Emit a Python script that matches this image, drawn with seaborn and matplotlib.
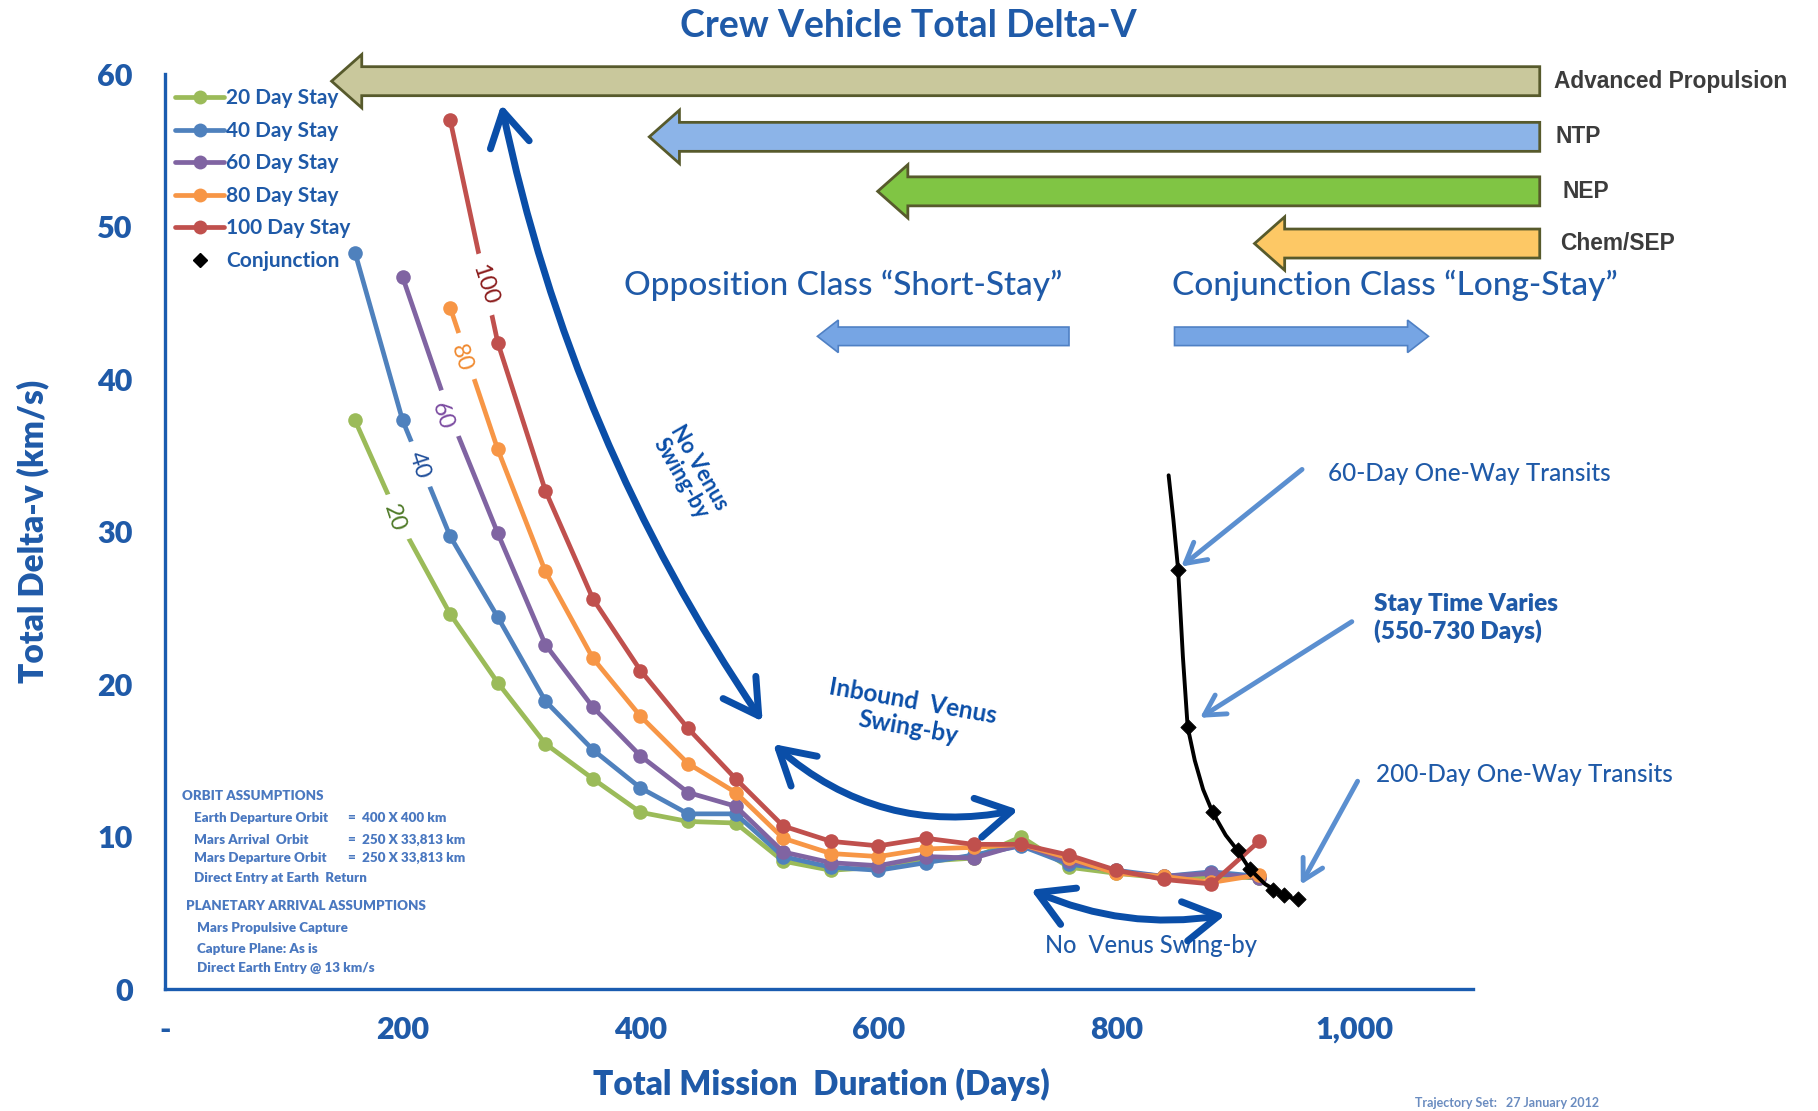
import numpy as np
import pandas as pd
import matplotlib.pyplot as plt
import seaborn as sns
from matplotlib.patches import Polygon, FancyArrowPatch
from matplotlib.lines import Line2D

sns.set_style("white")
plt.rcParams['font.family'] = ['Lato', 'DejaVu Sans']

# ------------------------------------------------------------
# data (total mission days vs total delta-v)
# ------------------------------------------------------------
days_20 = [160, 200, 240, 280, 320, 360, 400, 440, 480, 520, 560, 600, 640, 680, 720, 760, 800, 840, 880, 920]
stay_20 = [37.3, 30.3, 24.6, 20.1, 16.1, 13.8, 11.6, 11.0, 10.9, 8.4, 7.8, 8.0, 8.4, 8.6, 10.0, 8.0, 7.6, 7.3, 7.4, 7.3]

days_40 = [160, 200, 240, 280, 320, 360, 400, 440, 480, 520, 560, 600, 640, 680, 720, 760, 800, 840, 880, 920]
stay_40 = [48.3, 37.3, 29.7, 24.4, 18.9, 15.7, 13.2, 11.5, 11.5, 8.7, 8.0, 7.8, 8.3, 8.8, 9.4, 8.2, 7.8, 7.4, 7.7, 7.4]

days_60 = [200, 240, 280, 320, 360, 400, 440, 480, 520, 560, 600, 640, 680, 720, 760, 800, 840, 880, 920]
stay_60 = [46.7, 37.6, 29.9, 22.6, 18.5, 15.3, 12.9, 12.0, 9.0, 8.3, 8.1, 8.7, 8.6, 9.5, 8.4, 7.7, 7.4, 7.6, 7.3]

days_80 = [240, 280, 320, 360, 400, 440, 480, 520, 560, 600, 640, 680, 720, 760, 800, 840, 880, 920]
stay_80 = [44.7, 35.4, 27.4, 21.7, 17.9, 14.8, 12.9, 9.9, 8.9, 8.7, 9.2, 9.3, 9.5, 8.6, 7.6, 7.4, 7.0, 7.5]

days_100 = [240, 280, 320, 360, 400, 440, 480, 520, 560, 600, 640, 680, 720, 760, 800, 840, 880, 920]
stay_100 = [57.0, 42.4, 32.7, 25.6, 20.9, 17.1, 13.8, 10.7, 9.7, 9.4, 9.9, 9.5, 9.5, 8.8, 7.8, 7.2, 6.9, 9.7]

# conjunction class: fitted curve + computed points
conj_curve_days = [844, 848, 852, 856, 860, 866, 873, 881, 892, 902, 912, 925, 940, 954]
conj_curve_dv = [33.7, 30.8, 27.5, 21.8, 17.2, 15.0, 13.1, 11.6, 10.1, 9.1, 7.9, 6.9, 6.2, 5.8]
conj_days = [852, 860, 881, 902, 912, 932, 941, 953]
conj_dv = [27.5, 17.2, 11.6, 9.1, 7.9, 6.5, 6.2, 5.9]

series_names = ["20 Day Stay", "40 Day Stay", "60 Day Stay", "80 Day Stay", "100 Day Stay"]
series_days = [days_20, days_40, days_60, days_80, days_100]
series_dv = [stay_20, stay_40, stay_60, stay_80, stay_100]
series_colors = ["#9bbb59", "#4f81bd", "#8064a2", "#f79646", "#c0504d"]
inline_labels = ["20", "40", "60", "80", "100"]
inline_colors = ["#4f7a28", "#1f4e9a", "#7a4aa0", "#f08a30", "#8b1c1c"]
inline_pos = [(193, 30.9), (214, 34.4), (233, 37.6), (249, 41.4), (269, 46.2)]

propulsion = ["Advanced Propulsion", "NTP", "NEP", "Chem/SEP"]
prop_colors = ["#c9c89c", "#8cb4e8", "#80c544", "#fdc865"]

blue = "#1f5aa8"
dark_blue = "#0a4ea8"
light_arrow = "#5b8fd0"

# ------------------------------------------------------------
fig = plt.figure(figsize=(18.18, 11.11), dpi=100)
ax = fig.add_axes([0.0906, 0.1096, 0.7197, 0.8236])


def fxy(x, y):
    # position in the (1568 x 958) layout grid -> figure fraction
    return x / 1568, 1 - y / 958


long_df = pd.concat([pd.DataFrame({"days": d, "dv": v, "stay": n})
                     for d, v, n in zip(series_days, series_dv, series_names)])
sns.lineplot(data=long_df, x="days", y="dv", hue="stay", palette=series_colors,
             marker="o", markersize=10.5, markeredgewidth=0, linewidth=3.4,
             estimator=None, sort=False, legend=False, ax=ax, zorder=3)

sns.lineplot(x=conj_curve_days, y=conj_curve_dv, color="black", linewidth=2.8,
             estimator=None, sort=False, ax=ax, zorder=4)
sns.scatterplot(x=conj_days, y=conj_dv, color="black", marker="D", s=60,
                edgecolor="black", ax=ax, zorder=5)

# inline stay labels
for txt, col, (x, y) in zip(inline_labels, inline_colors, inline_pos):
    ax.text(x, y, txt, color=col, fontsize=17, rotation=-72, ha="center", va="center",
            zorder=6, bbox=dict(boxstyle="square,pad=0.45", fc="white", ec="none"))

# axes styling
ax.set_xlim(0, 1100)
ax.set_ylim(0, 60)
ax.set_xticks([0, 200, 400, 600, 800, 1000])
ax.set_xticklabels(["-", "200", "400", "600", "800", "1,000"])
ax.set_yticks(range(0, 61, 10))
for s in ["top", "right"]:
    ax.spines[s].set_visible(False)
for s in ["left", "bottom"]:
    ax.spines[s].set_color("#1a5cb0")
    ax.spines[s].set_linewidth(2.4)
ax.tick_params(axis="both", direction="out", color="#1a5cb0", width=2, length=5,
               labelcolor=blue, labelsize=22)
ax.tick_params(axis="y", pad=18)
ax.tick_params(axis="x", pad=14)
for lab in ax.get_xticklabels() + ax.get_yticklabels():
    lab.set_fontweight("heavy")
ax.set_xlabel("Total Mission  Duration (Days)", fontsize=24, fontweight="heavy", color=blue)
ax.set_ylabel("Total Delta-v (km/s)", fontsize=24, fontweight="heavy", color=blue)
ax.xaxis.set_label_coords(0.5015, -0.086)
ax.yaxis.set_label_coords(-0.088, 0.5)

# legend
handles = [Line2D([], [], color=c, marker="o", markersize=10, linewidth=3.4, markeredgewidth=0)
           for c in series_colors]
handles.append(Line2D([], [], color="black", marker="D", markersize=7, linestyle="none"))
leg = ax.legend(handles, series_names + ["Conjunction"], loc="upper left",
                bbox_to_anchor=fxy(144, 69), bbox_transform=fig.transFigure,
                frameon=False, fontsize=15, handlelength=2.35, handletextpad=0.1,
                labelspacing=0.6, borderaxespad=0)
for t in leg.get_texts():
    t.set_color(blue)
    t.set_fontweight("bold")
leg.set_zorder(8)

# title
fig.text(*fxy(783, 22), "Crew Vehicle Total Delta-V", ha="center", va="center",
         fontsize=27, fontweight="bold", color=blue)


# propulsion block arrows (pointing left)
def block_arrow(x_tail, x_tip, yc, bh, hh, hl, fc, ec, lw=2.0):
    d = np.sign(x_tail - x_tip)
    xb = x_tip + d * hl
    pts = [(x_tail, yc - bh), (xb, yc - bh), (xb, yc - hh), (x_tip, yc),
           (xb, yc + hh), (xb, yc + bh), (x_tail, yc + bh)]
    fig.add_artist(Polygon([fxy(x, y) for x, y in pts], closed=True,
                           transform=fig.transFigure, fc=fc, ec=ec, lw=lw, zorder=7))


prop_tips = [286, 560, 757, 1082]
prop_y = [70, 118, 165, 210]
prop_text_x = [1340, 1342, 1348, 1346]
for name, col, tip, yc, tx in zip(propulsion, prop_colors, prop_tips, prop_y, prop_text_x):
    block_arrow(1328, tip, yc, 12.5, 23, 26, col, "#575a2c")
    fig.text(*fxy(tx, yc), name, ha="left", va="center", fontsize=16.4,
             fontweight="bold", color="#3c3c3c", family="Liberation Sans")

# opposition / conjunction class
fig.text(*fxy(727, 246), "Opposition Class \u201cShort-Stay\u201d", ha="center", va="center",
         fontsize=24, color=blue, fontweight="medium")
fig.text(*fxy(1203, 246), "Conjunction Class \u201cLong-Stay\u201d", ha="center", va="center",
         fontsize=24, color=blue, fontweight="medium")
block_arrow(922, 705, 290, 8, 14, 18, "#76a5e4", "#4f80c4", lw=1.2)
block_arrow(1013, 1232, 290, 8, 14, 18, "#76a5e4", "#4f80c4", lw=1.2)

# swing-by arrows
big = FancyArrowPatch((282.6, 58.2), (504, 17.4), connectionstyle="arc3,rad=0.1",
                      arrowstyle="<->,head_length=1.3,head_width=0.75", mutation_scale=19,
                      color=dark_blue, lw=5, zorder=6)
ax.add_patch(big)
ax.text((595 - 142) / 1.026, (853 - 408) / 13.15, "No Venus\nSwing-by", rotation=-60,
        ha="center", va="center", fontsize=15.5, fontweight="bold", color=dark_blue,
        linespacing=1.0)

inb = FancyArrowPatch((509.7, 16.2), (720, 11.8), connectionstyle="arc3,rad=0.25",
                      arrowstyle="<->,head_length=1.3,head_width=0.75", mutation_scale=19,
                      color=dark_blue, lw=5, zorder=6)
ax.add_patch(inb)
ax.text((785 - 142) / 1.026, (853 - 616) / 13.15, "Inbound  Venus\nSwing-by", rotation=-10,
        ha="center", va="center", fontsize=17.5, fontweight="bold",
        color=dark_blue, linespacing=1.15)

low = FancyArrowPatch((726, 6.6), (894, 4.9), connectionstyle="arc3,rad=0.15",
                      arrowstyle="<->,head_length=1.3,head_width=0.75", mutation_scale=19,
                      color=dark_blue, lw=5, zorder=6)
ax.add_patch(low)
ax.text((993 - 142) / 1.026, (853 - 815) / 13.15, "No  Venus Swing-by", ha="center",
        va="center", fontsize=17, color=blue, fontweight="medium")

# conjunction annotations
notes = [("60-Day One-Way Transits", (1145, 408), "medium", (958, 34.2), (852.8, 27.6)),
         ("Stay Time Varies\n(550-730 Days)", (1185, 533), "heavy", (1000, 24.2), (868.4, 17.7)),
         ("200-Day One-Way Transits", (1187, 668), "medium", (1004, 13.8), (954, 6.7))]
for txt, pos, w, tail, tip in notes:
    fig.text(*fxy(*pos), txt, ha="left", va="center", fontsize=17.5, fontweight=w,
             color=blue, linespacing=1.25)
    ax.annotate("", xy=tip, xytext=tail,
                arrowprops=dict(arrowstyle="->,head_length=0.9,head_width=0.5",
                                color=light_arrow, lw=3.5, mutation_scale=16))

# orbit assumptions block
orbit_lines = [((157, 686.6), "ORBIT ASSUMPTIONS", None),
               ((167, 705), "Earth Departure Orbit", "=  400 X 400 km"),
               ((167, 724), "Mars Arrival  Orbit", "=  250 X 33,813 km"),
               ((167, 739.5), "Mars Departure Orbit", "=  250 X 33,813 km"),
               ((167, 757.5), "Direct Entry at Earth  Return", None),
               ((160, 781.4), "PLANETARY ARRIVAL ASSUMPTIONS", None),
               ((170, 800), "Mars Propulsive Capture", None),
               ((170, 818), "Capture Plane: As is", None),
               ((170, 835), "Direct Earth Entry @ 13 km/s", None)]
for (x, y), left, right in orbit_lines:
    fig.text(*fxy(x, y), left, ha="left", va="center", fontsize=9.6,
             fontweight="heavy", color="#4a78c0")
    if right:
        fig.text(*fxy(300, y), right, ha="left", va="center", fontsize=9.6,
                 fontweight="heavy", color="#4a78c0")

fig.text(*fxy(1220, 951), "Trajectory Set:   27 January 2012", ha="left", va="center",
         fontsize=9, fontweight="bold", color="#6a8cc0")

fig.savefig("out.png", dpi=100)
